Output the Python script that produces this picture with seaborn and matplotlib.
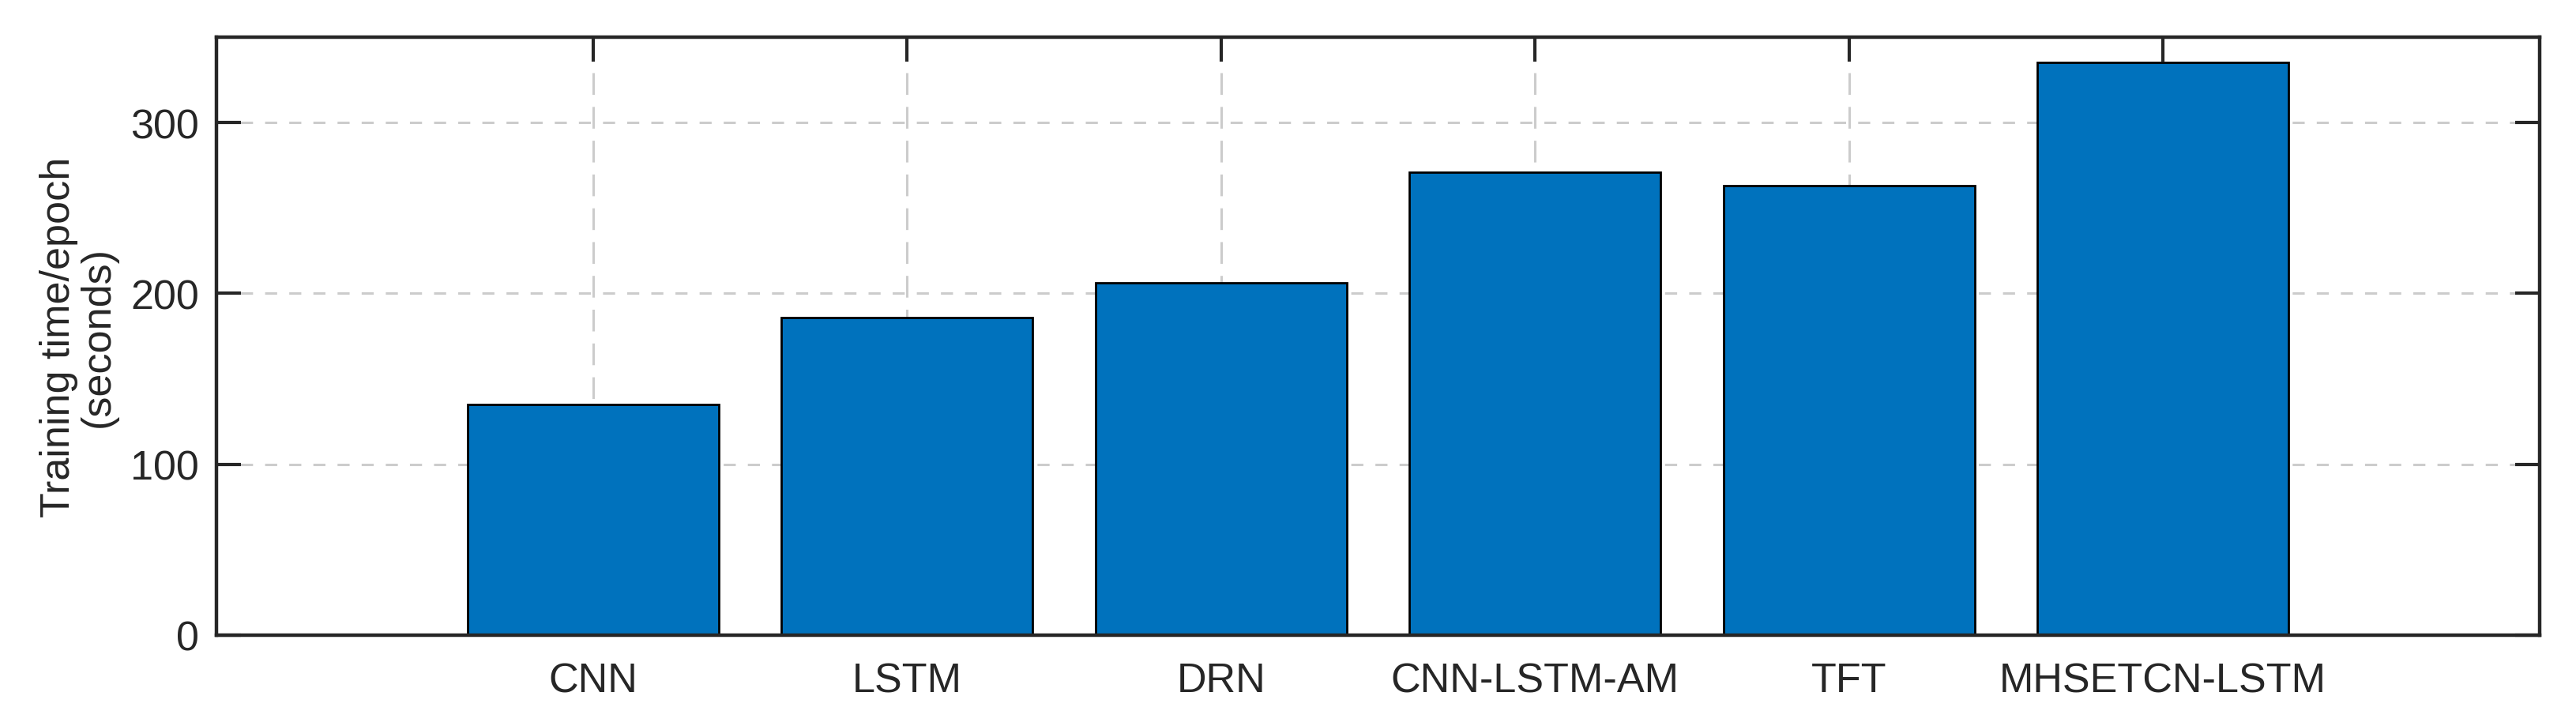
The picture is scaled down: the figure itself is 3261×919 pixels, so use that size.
import pandas as pd
import seaborn as sns
import matplotlib.pyplot as plt

models = ["CNN", "LSTM", "DRN", "CNN-LSTM-AM", "TFT", "MHSETCN-LSTM"]
train_time = [135, 186, 206, 271, 263, 335]
y_ticks = [0, 100, 200, 300]

df = pd.DataFrame({"Model": models, "Time": train_time})

sns.set_style("white")
plt.rcParams["font.family"] = ["Liberation Sans", "DejaVu Sans"]

fig = plt.figure(figsize=(3261 / 400, 920 / 400), dpi=400)
ax = fig.add_axes([274 / 3261, 1 - 805 / 920, (3215 - 274) / 3261, (805 - 48) / 920])

# grid behind the bars, ticks stay on top
for y in y_ticks:
    ax.axhline(y, color="#cccccc", lw=0.55, ls=(0, (5, 5)), zorder=0)
for i in range(len(models)):
    ax.axvline(i, color="#cccccc", lw=0.55, ls=(0, (9, 5)), zorder=0)

sns.barplot(data=df, x="Model", y="Time", color="#0072BD", saturation=1,
            width=0.8, edgecolor="black", linewidth=0.5, ax=ax, zorder=1)

ax.set_xlim(-1.2, len(models) + 0.2)
ax.set_ylim(0, 350)
ax.set_yticks(y_ticks)
ax.set_xlabel("")
ax.set_ylabel("Training time/epoch\n(seconds)", fontsize=9.4, color="#262626",
              labelpad=3, linespacing=1.0)

ax.tick_params(axis="both", which="both", direction="in", top=True, right=True,
               bottom=True, left=True, length=5.5, width=0.75, colors="#262626",
               labelsize=9.4)
ax.tick_params(axis="x", pad=6)
ax.tick_params(axis="y", pad=4)

for s in ax.spines.values():
    s.set_linewidth(0.8)
    s.set_color("#262626")

plt.savefig("out.png", dpi=400)
plt.close()
